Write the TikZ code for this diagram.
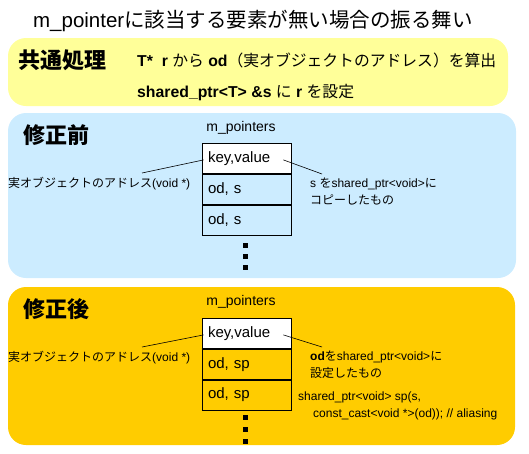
\documentclass[tikz,border=0pt]{standalone}
\usepackage{fontspec}
\setmainfont{Liberation Sans}
\newfontfamily\cjk{Noto Sans CJK JP}
\usetikzlibrary{positioning}

\definecolor{lightyellow}{HTML}{FFFF99}
\definecolor{lightblue}{HTML}{CCECFF}
\definecolor{gold}{HTML}{FFCC00}

\tikzset{
	panel/.style={rounded corners=18pt},
	cell/.style={draw, line width=0.8pt, minimum height=30pt, text width=77pt,
		inner xsep=6pt, inner ysep=0pt, align=left, font=\fontsize{15}{15}\selectfont},
	note/.style={anchor=west, inner sep=0pt, align=left, font=\fontsize{12}{17}\selectfont},
	head/.style={anchor=west, inner sep=0pt, font=\fontsize{22}{22}\selectfont\bfseries\cjk},
	label/.style={inner sep=0pt, font=\fontsize{14}{14}\selectfont},
	pointer/.style={line width=0.6pt}
}

\begin{document}
\begin{tikzpicture}[x=1pt, y=-1pt]
		
		\useasboundingbox (0,0) rectangle (529,453);
		
		% Title
		\node[inner sep=0pt, font=\fontsize{20.5}{20.5}\selectfont] (title) at (253,21)
		{m\_pointer{\cjk に該当する要素が無い場合の振る舞い}};
		
		% Panels
		\fill[lightyellow, panel] (8,38) rectangle (508,106);
		\fill[lightblue, panel] (8,113) rectangle (516,278);
		\fill[gold, panel] (8,287) rectangle (515,445);
		
		% Common step
		\node[head] (common) at (18,60) {共通処理};
		\node[note, font=\fontsize{15.8}{16}\selectfont] (calc) at (137,60)
		{\textbf{T*\ \ r} {\cjk から} \textbf{od}{\cjk （実オブジェクトのアドレス）を算出}};
		\node[note, font=\fontsize{15.8}{16}\selectfont] (assign) at (137,92)
		{\textbf{shared\_ptr<T> \&s} {\cjk に} \textbf{r} {\cjk を設定}};
		
		% Before the fix
		\node[head] (before) at (23,135) {修正前};
		\node[cell, fill=white, anchor=north] (b1) at (246.5,143) {key,value};
		\node[cell, below=0pt of b1] (b2) {od, s};
		\node[cell, below=0pt of b2] (b3) {od, s};
		\node[label] (bname) at (241,128) {m\_pointers};
		\foreach \y in {245,256,267}
		\fill (242.5,\y-2.5) rectangle ++(5,5);
		
		\node[note] (baddr) at (8,184) {{\cjk 実オブジェクトのアドレス}(void *)};
		\node[note] (bcopy) at (310,192) {s {\cjk を}shared\_ptr<void>{\cjk に}\\{\cjk コピーしたもの}};
		\coordinate (ba) at (142,173);
		\coordinate (bc) at (322,174);
		\draw[pointer] (ba) -- ([xshift=2pt, yshift=-1.5pt]b1.west);
		\draw[pointer] ([xshift=-8pt, yshift=-1.5pt]b1.east) -- (bc);
		
		% After the fix
		\node[head] (after) at (23,309) {修正後};
		\node[cell, fill=white, anchor=north] (a1) at (246.5,318) {key,value};
		\node[cell, below=0pt of a1] (a2) {od, sp};
		\node[cell, below=0pt of a2] (a3) {od, sp};
		\draw[line width=1.6pt] (a2.north west) -- (a2.north east);
		\node[label] (aname) at (241,302) {m\_pointers};
		\foreach \y in {417,429,441}
		\fill (242.5,\y-2.5) rectangle ++(5,5);
		
		\node[note] (aaddr) at (8,358) {{\cjk 実オブジェクトのアドレス}(void *)};
		\node[note] (aset) at (310,365) {\textbf{od}{\cjk を}shared\_ptr<void>{\cjk に}\\{\cjk 設定したもの}};
		\node[note] (alias) at (298,406)
		{shared\_ptr<void> sp(s,\\\hspace*{15pt}const\_cast<void *>(od)); // aliasing};
		\coordinate (aa) at (142,347);
		\coordinate (ac) at (322,347);
		\draw[pointer] (aa) -- ([xshift=2pt, yshift=-1.5pt]a1.west);
		\draw[pointer] ([xshift=-8pt, yshift=-1.5pt]a1.east) -- (ac);
		
	\end{tikzpicture}
\end{document}
